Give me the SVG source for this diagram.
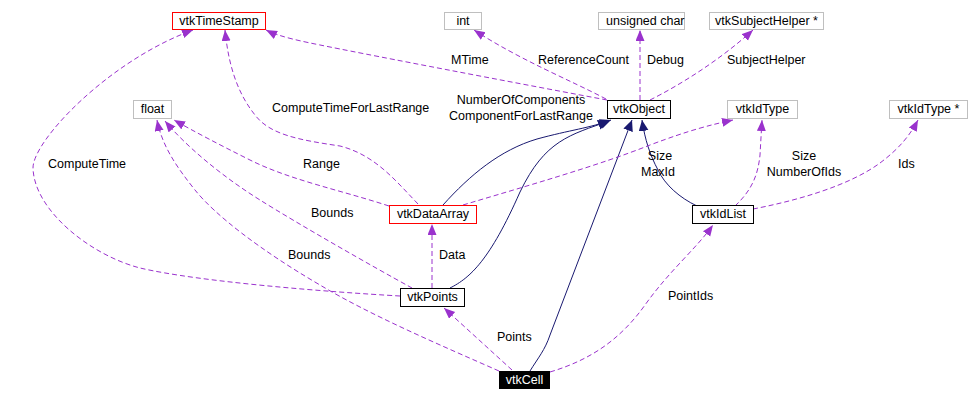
<svg xmlns="http://www.w3.org/2000/svg" width="969" height="402" viewBox="0 0 969 402">
<style>
text{font-family:"Liberation Sans",Arial,sans-serif;font-size:12.5px;fill:#000}
.nb{fill:#fff;stroke:#000;stroke-width:1}
.ng{fill:#fff;stroke:#bfbfbf;stroke-width:1}
.nr{fill:#fff;stroke:#ff0000;stroke-width:1}
.c{text-anchor:middle}
.u{fill:none;stroke:#9a32cd;stroke-width:1;stroke-dasharray:5,3;marker-end:url(#pa)}
.i{fill:none;stroke:#191970;stroke-width:1;marker-end:url(#na)}
</style>
<defs>
<marker id="pa" markerUnits="userSpaceOnUse" markerWidth="12" markerHeight="10" refX="11" refY="4.5" orient="auto"><path d="M0,0 L11,4.5 L0,9 z" fill="#9a32cd"/></marker>
<marker id="na" markerUnits="userSpaceOnUse" markerWidth="12" markerHeight="11" refX="11" refY="5" orient="auto"><path d="M0,0 L11,5 L0,10 z" fill="#191970"/></marker>
</defs>
<g id="connectors">
<path class="u" d="M607,100 C500,80 380,57 330,47 C300,41 280,37 266,30"/>
<path class="u" d="M606,99 C570,80 520,60 474,30"/>
<path class="u" d="M640,100 L640,30"/>
<path class="u" d="M650,100 C680,85 720,60 753,30"/>
<path class="i" d="M443,205 C470,175 500,150 537,139 C570,130 590,128 611,120"/>
<path class="i" d="M450,288 C470,278 490,260 520,192 C545,140 570,135 609,121"/>
<path class="i" d="M530,371 C538,358 545,350 550,335 L632,120"/>
<path class="i" d="M697,206 C680,198 665,185 658,170 C650,155 645,140 642,120"/>
<path class="u" d="M418,204 C395,180 375,155 340,146 C300,140 270,135 255,115 C235,90 228,60 225,30"/>
<path class="u" d="M389,206 C340,190 290,180 250,160 C220,145 195,132 174,120"/>
<path class="u" d="M463,205 C530,185 600,165 650,145 C690,130 710,125 733,120"/>
<path class="u" d="M735,206 C752,190 758,175 760,155 L762,120"/>
<path class="u" d="M753,209 C800,200 850,185 880,163 C900,148 910,135 918,120"/>
<path class="u" d="M432,288 L432,224"/>
<path class="u" d="M412,288 C370,265 300,225 260,200 C220,175 185,145 165,121"/>
<path class="u" d="M499,371 C440,345 370,315 320,285 C260,250 215,215 195,190 C175,165 162,145 157,120"/>
<path class="u" d="M400,296 C330,292 200,282 140,268 C90,255 34,210 33,168 C33,140 110,60 193,30"/>
<path class="u" d="M512,370 L444,308"/>
<path class="u" d="M550,372 C590,360 620,340 645,305 C670,270 695,250 713,225"/>
</g>
<g id="labels">
<text x="451" y="64">MTime</text>
<text x="538" y="64">ReferenceCount</text>
<text x="647" y="64">Debug</text>
<text x="727" y="64">SubjectHelper</text>
<text class="c" x="521" y="104">NumberOfComponents</text>
<text class="c" x="521" y="120">ComponentForLastRange</text>
<text x="272" y="112">ComputeTimeForLastRange</text>
<text x="48" y="168">ComputeTime</text>
<text x="303" y="168">Range</text>
<text x="311" y="217">Bounds</text>
<text x="288" y="259">Bounds</text>
<text x="439" y="259">Data</text>
<text x="497" y="341">Points</text>
<text x="668" y="300">PointIds</text>
<text class="c" x="660" y="160">Size</text>
<text class="c" x="658" y="176">MaxId</text>
<text class="c" x="804" y="160">Size</text>
<text class="c" x="804" y="176">NumberOfIds</text>
<text x="898" y="168">Ids</text>
</g>
<g id="vtkTimeStamp"><rect class="nr" x="172.5" y="12.5" width="93" height="17"/><text class="c" x="219" y="25">vtkTimeStamp</text></g>
<g id="int"><rect class="ng" x="444.5" y="12.5" width="37" height="17"/><text class="c" x="463" y="25">int</text></g>
<g id="unsignedchar"><rect class="ng" x="598.5" y="12.5" width="86" height="17"/><text x="606" y="25">unsigned char</text></g>
<g id="vtkSubjectHelper"><rect class="ng" x="709.5" y="12.5" width="114" height="17"/><text class="c" x="766.5" y="25">vtkSubjectHelper *</text></g>
<g id="float"><rect class="ng" x="133.5" y="100.5" width="38" height="18"/><text class="c" x="152.5" y="113">float</text></g>
<g id="vtkObject"><rect class="nb" x="607.5" y="100.5" width="63" height="18"/><text class="c" x="639" y="113">vtkObject</text></g>
<g id="vtkIdType"><rect class="ng" x="727.5" y="100.5" width="70" height="18"/><text class="c" x="762.5" y="113">vtkIdType</text></g>
<g id="vtkIdTypePtr"><rect class="ng" x="889.5" y="100.5" width="78" height="18"/><text class="c" x="928.5" y="113">vtkIdType *</text></g>
<g id="vtkDataArray"><rect class="nr" x="389.5" y="205.5" width="87" height="18"/><text class="c" x="433" y="218">vtkDataArray</text></g>
<g id="vtkIdList"><rect class="nb" x="692.5" y="205.5" width="61" height="18"/><text class="c" x="723" y="218">vtkIdList</text></g>
<g id="vtkPoints"><rect class="nb" x="400.5" y="288.5" width="64" height="18"/><text class="c" x="432.5" y="301">vtkPoints</text></g>
<g id="vtkCell"><rect x="499" y="371" width="51" height="18" fill="#000"/><text class="c" x="524.5" y="384" style="fill:#fff">vtkCell</text></g>
</svg>
